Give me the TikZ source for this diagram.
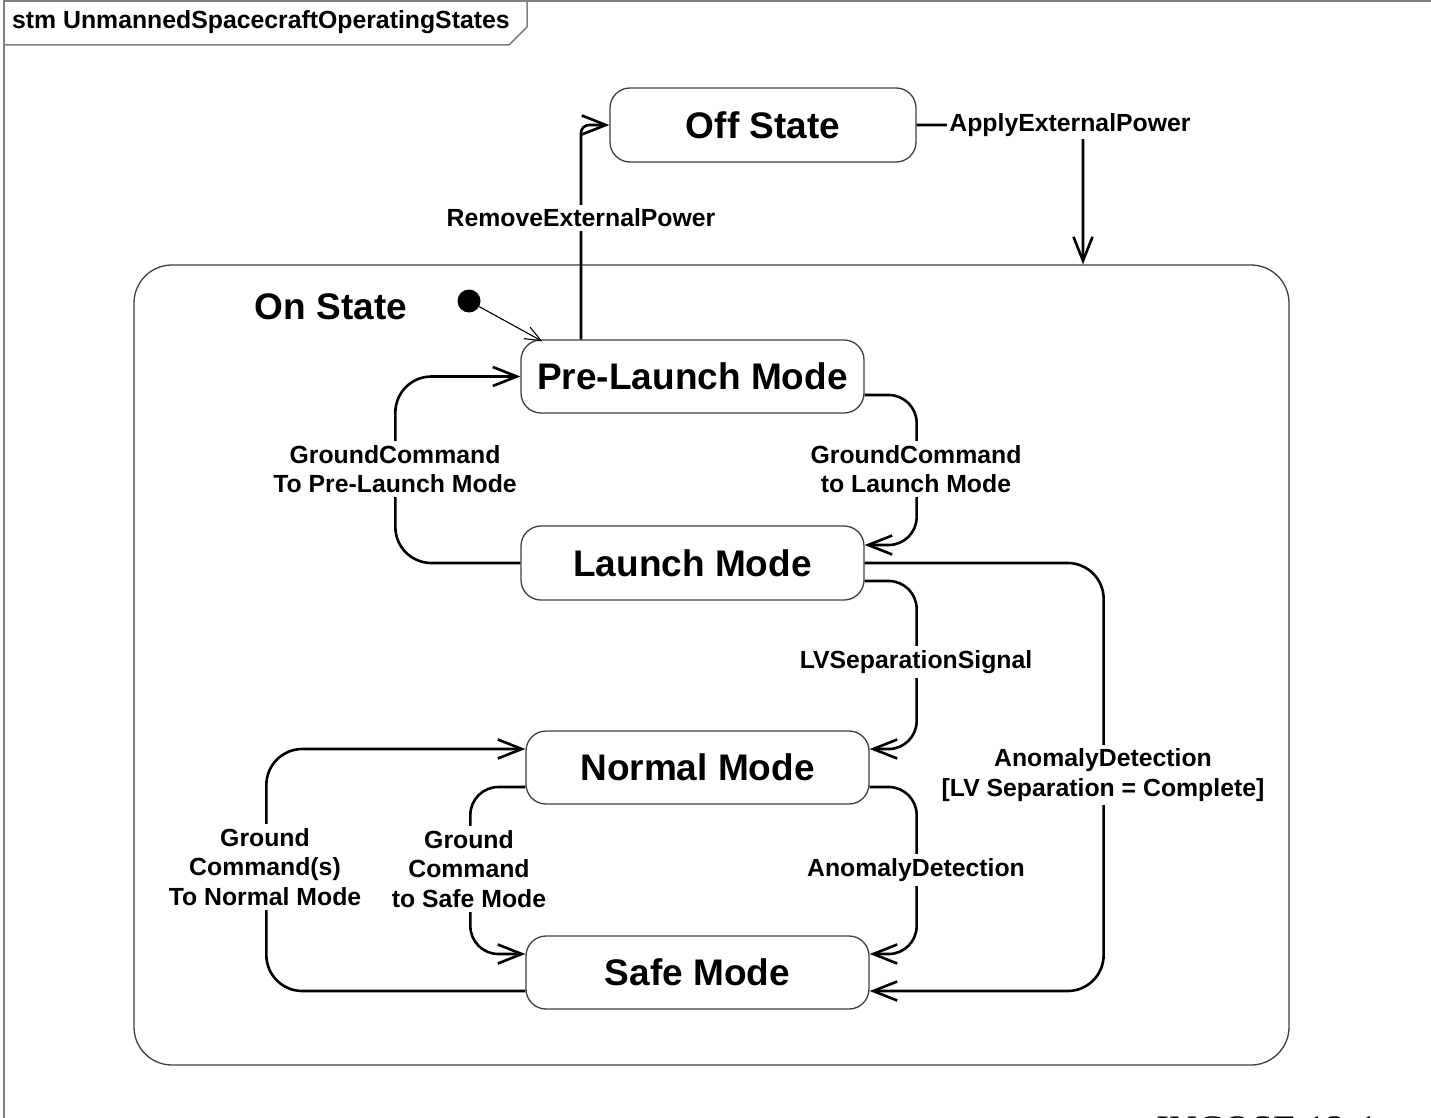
\documentclass[tikz,border=0pt]{standalone}
\usepackage{fontspec}
\setmainfont{Liberation Sans}
\newfontfamily\incosefont{Liberation Serif}
\usetikzlibrary{arrows.meta,calc}
\begin{document}
\begin{tikzpicture}[x=1pt,y=-1pt,
  frameline/.style={draw=black!50, line width=1.5pt},
  statebox/.style={draw=black!75, line width=1.3pt, rounded corners=20pt, fill=white,
    font=\fontsize{37}{40}\selectfont\bfseries, inner sep=0pt},
  trans/.style={draw=black, line width=2.6pt, rounded corners=30pt,
    -{Straight Barb[length=24pt,width=19pt]}},
  inittrans/.style={draw=black, line width=1.1pt,
    -{Straight Barb[length=16pt,width=13pt]}},
  lbl/.style={fill=white, font=\fontsize{24.8}{29.5}\selectfont\bfseries,
    align=center, inner sep=4pt},
]
\useasboundingbox (0,0) rectangle (1431,1118);
\fill[white] (0,0) rectangle (1431,1118);

% frame
\draw[frameline] (4,1118) -- (4,1) -- (1431,1);
\draw[frameline] (4,45) -- (509,45) -- (527,27) -- (527,1);
\node[anchor=west, inner sep=0pt, font=\fontsize{24.8}{28}\selectfont\bfseries] (title) at (12,22) {stm UnmannedSpacecraftOperatingStates};

% composite state
\node[draw=black!75, line width=1.3pt, rounded corners=38pt, minimum width=1155pt, minimum height=800pt, inner sep=0pt] (OnState) at (711.5,665) {};
\node[font=\fontsize{37}{40}\selectfont\bfseries, inner sep=0pt] (onlabel) at (331,307) {On State};

% states
\node[statebox, minimum width=306pt, minimum height=74pt] (Off) at (763,125) {Off State};
\node[statebox, minimum width=343pt, minimum height=73pt] (PreLaunch) at (692.5,376.5) {Pre-Launch Mode};
\node[statebox, minimum width=343pt, minimum height=74pt] (Launch) at (692.5,563) {Launch Mode};
\node[statebox, minimum width=343pt, minimum height=73pt] (Normal) at (697.5,767.5) {Normal Mode};
\node[statebox, minimum width=343pt, minimum height=73pt] (Safe) at (697.5,972.5) {Safe Mode};

% initial pseudostate
\node[circle, fill=black, minimum size=23pt, inner sep=0pt] (init) at (469,301) {};
\draw[inittrans] (init) -- ([xshift=22pt,yshift=-2pt]PreLaunch.north west);

% transitions
\draw[trans, rounded corners=8pt] (PreLaunch.north -| 581,0) |- (Off.west);
\draw[trans, rounded corners=16pt] (Off.east) -- (1083,125) -- (OnState.north -| 1083,0);
\draw[trans, rounded corners=36pt] (Launch.west) -- ++(-125,0) |- (PreLaunch.west);
\draw[trans, rounded corners=28pt] ([yshift=-18.5pt]PreLaunch.east) -- ++(52,0) |- ([yshift=18pt]Launch.east);
\draw[trans, rounded corners=28pt] ([yshift=-18pt]Launch.east) -- ++(52,0) |- ([yshift=18.5pt]Normal.east);
\draw[trans, rounded corners=36pt] (Launch.east) -- ++(239,0) |- ([yshift=-18.5pt]Safe.east);
\draw[trans, rounded corners=28pt] ([yshift=-19.5pt]Normal.east) -- ++(47,0) |- ([yshift=18.5pt]Safe.east);
\draw[trans, rounded corners=36pt] ([yshift=-18.5pt]Safe.west) -- ++(-259,0) |- ([yshift=18.5pt]Normal.west);
\draw[trans, rounded corners=28pt] ([yshift=-19.5pt]Normal.west) -- ++(-55,0) |- ([yshift=18.5pt]Safe.west);

% labels
\node[lbl] (lRemove) at (581,218) {RemoveExternalPower};
\node[lbl, inner sep=2pt] (lApply) at (1070,125) {ApplyExternalPower};
\node[lbl] (lToPre) at (395,469) {GroundCommand\\To Pre-Launch Mode};
\node[lbl] (lToLaunch) at (916,469) {GroundCommand\\to Launch Mode};
\node[lbl] (lLV) at (916,662) {LVSeparationSignal};
\node[lbl] (lAnomLV) at (1103,775) {AnomalyDetection\\{[LV Separation = Complete]}};
\node[lbl] (lAnom) at (916,870) {AnomalyDetection};
\node[lbl] (lToNormal) at (265,867) {Ground\\Command(s)\\To Normal Mode};
\node[lbl] (lToSafe) at (469,869) {Ground\\Command\\to Safe Mode};

% partially visible caption (cut by the lower edge, as in the reference)
\node[anchor=base west, inner sep=0pt, font=\incosefont\fontsize{39}{44}\selectfont] (incose) at (1156,1142) {INCOSE 12-1};
\end{tikzpicture}
\end{document}
